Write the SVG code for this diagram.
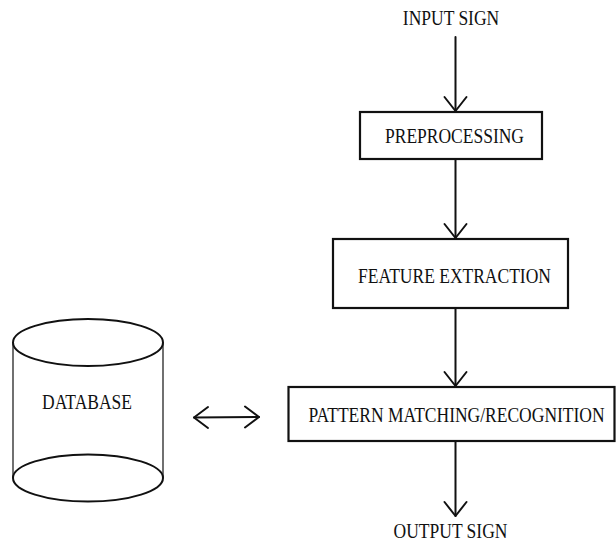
<svg xmlns="http://www.w3.org/2000/svg" width="616" height="542" viewBox="0 0 616 542">
<style>
text{font-family:"Liberation Serif","Times New Roman",serif;font-size:20px;fill:#111;text-anchor:middle}
.box{fill:#fff;stroke:#111;stroke-width:2.2}
.ln{fill:none;stroke:#111;stroke-width:2;stroke-linecap:round;stroke-linejoin:round}
.side{fill:none;stroke:#111;stroke-width:1.2}
</style>
<rect width="616" height="542" fill="#fff"/>
<g id="connectors">
<line class="ln" x1="455.5" y1="37" x2="455.5" y2="111"/>
<polyline class="ln" points="444.5,97 455.5,111 466.5,97"/>
<line class="ln" x1="455.5" y1="160" x2="455.5" y2="238"/>
<polyline class="ln" points="444.5,224 455.5,238 466.5,224"/>
<line class="ln" x1="455.5" y1="309" x2="455.5" y2="386"/>
<polyline class="ln" points="444.5,372 455.5,386 466.5,372"/>
<line class="ln" x1="455.5" y1="442" x2="455.5" y2="516"/>
<polyline class="ln" points="444.5,502 455.5,516 466.5,502"/>
<line class="ln" x1="194" y1="417.5" x2="259" y2="417"/>
<polyline class="ln" points="208,407 194,417.5 208,428"/>
<polyline class="ln" points="245,406.5 259,417 245,427.5"/>
</g>
<g id="input-sign"><text transform="translate(451,25) scale(0.875,1)">INPUT SIGN</text></g>
<g id="preprocessing">
<rect class="box" x="360" y="112" width="182" height="47"/>
<text transform="translate(454.5,143) scale(0.875,1)">PREPROCESSING</text>
</g>
<g id="feature-extraction">
<rect class="box" x="333" y="239" width="235" height="69"/>
<text transform="translate(454.5,283) scale(0.875,1)">FEATURE EXTRACTION</text>
</g>
<g id="pattern-matching">
<rect class="box" x="288.5" y="387" width="326" height="54"/>
<text transform="translate(456.5,422) scale(0.875,1)">PATTERN MATCHING/RECOGNITION</text>
</g>
<g id="output-sign"><text transform="translate(450.5,538) scale(0.875,1)">OUTPUT SIGN</text></g>
<g id="database">
<line class="side" x1="13" y1="342.5" x2="13" y2="478"/>
<line class="side" x1="163" y1="342.5" x2="163" y2="478"/>
<ellipse class="ln" cx="88" cy="342.5" rx="75" ry="23.5"/>
<ellipse class="ln" cx="88" cy="478" rx="75" ry="23.5"/>
<text transform="translate(87,409) scale(0.875,1)">DATABASE</text>
</g>
</svg>
